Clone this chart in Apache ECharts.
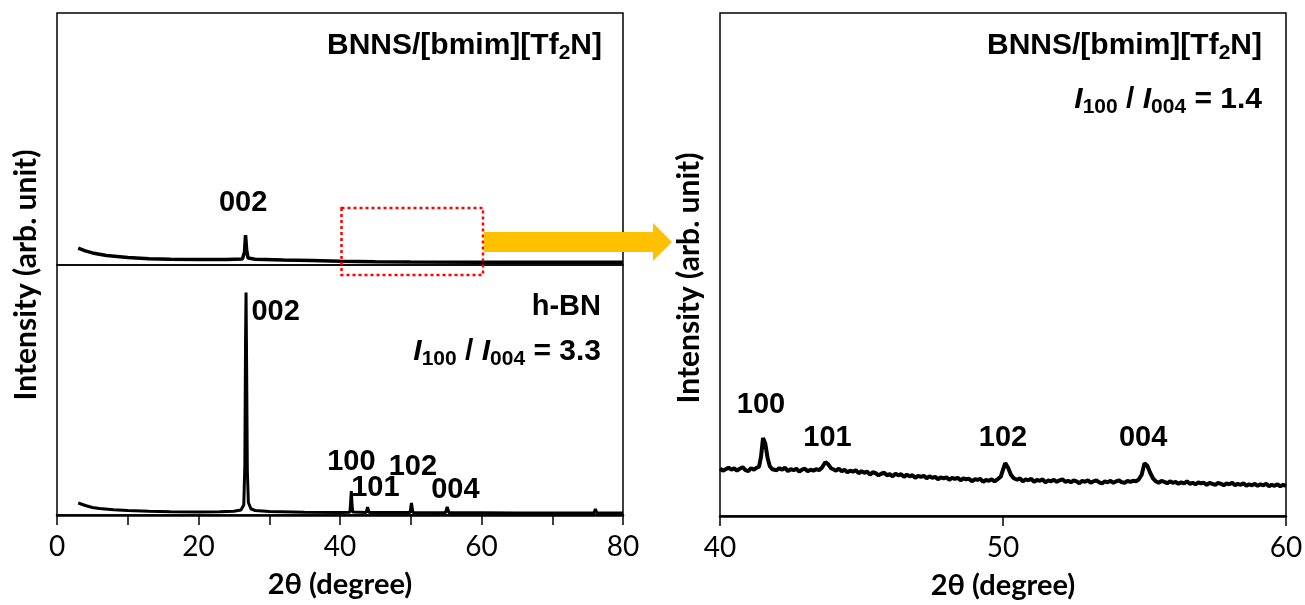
<!DOCTYPE html>
<html>
<head>
<meta charset="utf-8">
<script src="https://cdn.jsdelivr.net/npm/echarts@6/dist/echarts.min.js"></script>
<style>
  html, body { margin: 0; padding: 0; background: #fff; }
  #main { width: 1305px; height: 605px; }
</style>
</head>
<body>
<div id="main"></div>
<script>
// h-BN powder, full scan (lower left panel) [2theta, intensity]
var hbnTrace = [
  [3, 4.8], [4, 3.8], [5, 3.0], [6, 2.6], [8, 2.1], [10, 1.8], [13, 1.5], [16, 1.3],
  [20, 1.2], [23, 1.3], [25, 1.5], [26.0, 2.0], [26.4, 4], [26.55, 20], [26.65, 70],
  [26.72, 89], [26.8, 60], [26.9, 18], [27.05, 5], [27.4, 2.5], [28, 1.8], [30, 1.4],
  [35, 1.1], [40, 1.0], [41.4, 1.1], [41.5, 5], [41.6, 9.6], [41.7, 4], [41.8, 1.2],
  [43.7, 1.0], [43.9, 3.2], [44.1, 1.0], [49.9, 1.0], [50.1, 4.8], [50.3, 1.0],
  [54.9, 0.9], [55.15, 3.2], [55.4, 0.9], [60, 0.9], [65, 0.8], [71.3, 0.8], [71.5, 1.6],
  [71.7, 0.8], [75.9, 0.8], [76.1, 2.4], [76.3, 0.8], [80, 0.8]
];

// BNNS/[bmim][Tf2N], full scan (upper left panel)
var bnnsTrace = [
  [3, 6.7], [4, 5.6], [5, 4.8], [7, 3.8], [10, 3.0], [13, 2.5], [16, 2.3], [20, 2.2],
  [24, 2.2], [26.2, 2.4], [26.5, 5], [26.65, 11.9], [26.8, 6], [27.0, 2.8], [28, 2.3],
  [32, 2.0], [36, 1.8], [40, 1.5], [45, 1.3], [50, 1.2], [60, 1.1], [70, 1.1], [80, 1.1]
];

// BNNS/[bmim][Tf2N], 40-60 deg detail (right panel)
var bnnsZoomTrace = [
  [40.0, 9.4], [40.1, 9.0], [40.2, 9.3], [40.3, 9.6], [40.4, 9.2], [40.5, 9.5], [40.6, 9.0],
  [40.7, 9.4], [40.8, 9.7], [40.9, 9.1], [41.0, 8.9], [41.1, 9.5], [41.2, 9.2], [41.3, 9.6],
  [41.38, 9.8], [41.45, 11.8], [41.52, 15.5], [41.6, 14.4], [41.68, 11.6], [41.76, 9.9],
  [41.85, 9.3], [42.0, 9.1], [42.1, 9.5], [42.2, 9.2], [42.3, 9.6], [42.4, 8.9], [42.5, 9.3],
  [42.6, 9.1], [42.7, 9.4], [42.8, 8.8], [42.9, 9.2], [43.0, 9.4], [43.1, 8.9], [43.2, 9.2],
  [43.3, 9.0], [43.4, 9.3], [43.5, 9.1], [43.6, 9.6], [43.72, 10.7], [43.82, 10.3],
  [43.92, 9.5], [44.0, 9.3], [44.1, 9.0], [44.2, 9.4], [44.3, 8.9], [44.4, 9.2], [44.5, 8.7],
  [44.6, 9.0], [44.7, 8.8], [44.8, 9.1], [44.9, 8.5], [45.0, 8.9], [45.1, 8.6], [45.2, 8.8],
  [45.3, 8.2], [45.4, 8.7], [45.5, 8.5], [45.6, 8.1], [45.7, 8.4], [45.8, 8.6], [45.9, 8.1],
  [46.0, 8.3], [46.1, 7.9], [46.2, 8.4], [46.3, 8.1], [46.4, 8.3], [46.5, 7.8], [46.6, 8.2],
  [46.7, 7.9], [46.8, 8.1], [46.9, 7.6], [47.0, 8.0], [47.1, 7.8], [47.2, 8.0], [47.3, 7.5],
  [47.4, 7.9], [47.5, 7.6], [47.6, 7.8], [47.7, 7.3], [47.8, 7.7], [47.9, 7.5], [48.0, 7.7],
  [48.1, 7.2], [48.2, 7.6], [48.3, 7.4], [48.4, 7.6], [48.5, 7.1], [48.6, 7.5], [48.7, 7.3],
  [48.8, 7.4], [48.9, 6.9], [49.0, 7.3], [49.1, 7.2], [49.2, 7.4], [49.3, 6.8], [49.4, 7.2],
  [49.5, 7.0], [49.6, 7.3], [49.7, 6.9], [49.8, 7.3], [49.92, 7.8], [50.0, 9.2], [50.08, 10.5],
  [50.18, 9.6], [50.28, 8.2], [50.38, 7.5], [50.5, 7.2], [50.6, 7.5], [50.7, 6.9], [50.8, 7.3],
  [50.9, 7.1], [51.0, 7.4], [51.1, 6.8], [51.2, 7.2], [51.3, 7.0], [51.4, 7.3], [51.5, 6.7],
  [51.6, 7.1], [51.7, 6.9], [51.8, 7.2], [51.9, 6.8], [52.0, 7.1], [52.1, 7.3], [52.2, 6.8],
  [52.3, 7.0], [52.4, 6.7], [52.5, 7.1], [52.6, 6.9], [52.7, 6.5], [52.8, 7.0], [52.9, 6.8],
  [53.0, 7.1], [53.1, 6.6], [53.2, 6.9], [53.3, 7.1], [53.4, 6.7], [53.5, 6.5], [53.6, 6.9],
  [53.7, 6.7], [53.8, 7.0], [53.9, 6.6], [54.0, 6.9], [54.1, 7.1], [54.2, 6.7], [54.3, 6.6],
  [54.4, 7.0], [54.5, 6.8], [54.6, 7.0], [54.7, 6.9], [54.8, 7.3], [54.9, 8.2], [55.0, 10.5],
  [55.1, 10.0], [55.2, 8.6], [55.3, 7.5], [55.4, 6.9], [55.5, 6.6], [55.6, 7.0], [55.7, 6.8],
  [55.8, 6.5], [55.9, 6.9], [56.0, 6.6], [56.1, 6.8], [56.2, 6.4], [56.3, 6.7], [56.4, 6.5],
  [56.5, 6.9], [56.6, 6.4], [56.7, 6.6], [56.8, 6.3], [56.9, 6.7], [57.0, 6.5], [57.1, 6.6],
  [57.2, 6.2], [57.3, 6.6], [57.4, 6.4], [57.5, 6.2], [57.6, 6.6], [57.7, 6.4], [57.8, 6.1],
  [57.9, 6.5], [58.0, 6.3], [58.1, 6.6], [58.2, 6.1], [58.3, 6.4], [58.4, 6.2], [58.5, 6.5],
  [58.6, 6.0], [58.7, 6.3], [58.8, 6.1], [58.9, 6.4], [59.0, 6.0], [59.1, 6.3], [59.2, 6.1],
  [59.3, 6.4], [59.4, 5.9], [59.5, 6.2], [59.6, 6.0], [59.7, 6.3], [59.8, 5.9], [59.9, 6.2],
  [60.0, 6.0]
];

// peak labels: [text, 2theta, intensity] (label centre)
var hbnPeakLabels = [['002', 30.9, 81.2], ['100', 41.6, 21.2], ['101', 45.0, 10.8], ['102', 50.3, 19.2], ['004', 56.3, 10.0]];
var bnnsPeakLabels = [['002', 26.3, 24.5]];
var zoomPeakLabels = [['100', 41.45, 22.0], ['101', 43.8, 15.5], ['102', 50.0, 15.5], ['004', 54.95, 15.5]];

var ANNO_FONT = '"Liberation Sans", Arial, sans-serif';
var AXIS_FONT = 'Lato, sans-serif';

var chart = echarts.init(document.getElementById('main'));

function traceSeries(xi, yi, data, w) {
    return {
        type: 'line', xAxisIndex: xi, yAxisIndex: yi, data: data, showSymbol: false,
        lineStyle: {color: '#000', width: w}, z: 3
    };
}

// rich text for annotations
var rich = {
    s: {fontFamily: ANNO_FONT, fontWeight: 'bold', fontSize: 21, color: '#000', verticalAlign: 'bottom', lineHeight: 20},
    i: {fontFamily: ANNO_FONT, fontWeight: 'bold', fontStyle: 'italic', fontSize: 30, color: '#000', lineHeight: 36},
    n: {fontFamily: ANNO_FONT, fontWeight: 'bold', fontSize: 30, color: '#000', lineHeight: 36}
};
function note(text, right, top, size) {
    return {
        text: text, right: right, top: top, padding: 0,
        textStyle: {fontFamily: ANNO_FONT, fontWeight: 'bold', fontSize: size, color: '#000', lineHeight: 36, rich: rich}
    };
}

var frame = {show: true, borderColor: '#000', borderWidth: 1.5, backgroundColor: 'transparent', outerBoundsMode: 'none'};
var bottomXAxis = {
    type: 'value', splitLine: {show: false},
    axisLine: {show: true, lineStyle: {color: '#000', width: 2.5}},
    axisTick: {show: true, length: 10, lineStyle: {color: '#000', width: 1.5}},
    axisLabel: {fontFamily: AXIS_FONT, fontSize: 28, color: '#000', margin: 18},
    name: '2θ (degree)', nameLocation: 'middle', nameGap: 55,
    nameTextStyle: {fontFamily: AXIS_FONT, fontWeight: 'bold', fontSize: 29, color: '#000'}
};
var hiddenY = {type: 'value', min: 0, max: 100, show: false, splitLine: {show: false}};

var option = {
    animation: false,
    backgroundColor: '#fff',
    title: [
        note('BNNS/[bmim][Tf{s|2}N]', 703, 28, 30),
        note('h-BN', 704, 289, 29),
        note('{i|I}{s|100}{n| / }{i|I}{s|004}{n| = 3.3}', 704, 334, 30),
        note('BNNS/[bmim][Tf{s|2}N]', 43, 28, 30),
        note('{i|I}{s|100}{n| / }{i|I}{s|004}{n| = 1.4}', 43, 82, 30)
    ],
    grid: [
        Object.assign({left: 57, top: 13, width: 566, height: 252}, frame),
        Object.assign({left: 57, top: 265, width: 566, height: 250}, frame),
        Object.assign({left: 720, top: 13, width: 566, height: 503}, frame)
    ],
    xAxis: [
        {type: 'value', gridIndex: 0, min: 0, max: 80, show: false, splitLine: {show: false}},
        Object.assign({}, bottomXAxis, {
            gridIndex: 1, min: 0, max: 80, interval: 10,
            axisLabel: Object.assign({}, bottomXAxis.axisLabel, {
                formatter: function (v) { return v % 20 === 0 ? String(v) : ''; }
            })
        }),
        Object.assign({}, bottomXAxis, {gridIndex: 2, min: 40, max: 60, interval: 10})
    ],
    yAxis: [
        Object.assign({gridIndex: 0}, hiddenY),
        Object.assign({gridIndex: 1}, hiddenY),
        Object.assign({gridIndex: 2}, hiddenY)
    ],
    series: [
        traceSeries(0, 0, bnnsTrace, 3.5),
        traceSeries(1, 1, hbnTrace, 3),
        traceSeries(2, 2, bnnsZoomTrace, 4)
    ]
};

chart.setOption(option);

// peak labels placed through the axes of their own panel
function peakTexts(gridIndex, labels) {
    return labels.map(function (l) {
        var p = chart.convertToPixel({gridIndex: gridIndex}, [l[1], l[2]]);
        return {
            type: 'text', x: p[0], y: p[1], z: 20, silent: true,
            style: {text: l[0], fontFamily: ANNO_FONT, fontWeight: 'bold', fontSize: 29, fill: '#000',
                textAlign: 'center', textVerticalAlign: 'middle'}
        };
    });
}

// annotations: zoom box on 40-60 deg, arrow, rotated y titles
var boxL = chart.convertToPixel({xAxisIndex: 1}, 40);
var boxR = chart.convertToPixel({xAxisIndex: 1}, 60);
var yTitle = {text: 'Intensity (arb. unit)', fontFamily: AXIS_FONT, fontWeight: 'bold', fontSize: 30,
    fill: '#000', textAlign: 'center', textVerticalAlign: 'middle'};

chart.setOption({
    graphic: [
        {type: 'rect', z: 20, shape: {x: boxL + 1.5, y: 208, width: boxR - boxL, height: 67},
            style: {fill: 'none', stroke: '#ff0000', lineWidth: 2.5, lineDash: [3, 3]}},
        {type: 'polygon', z: 20,
            shape: {points: [[484, 232], [653, 232], [653, 223], [672, 242], [653, 261], [653, 252], [484, 252]]},
            style: {fill: '#ffc000'}},
        {type: 'text', x: 26, y: 275, rotation: Math.PI / 2, style: yTitle},
        {type: 'text', x: 689, y: 278, rotation: Math.PI / 2, style: yTitle}
    ].concat(peakTexts(0, bnnsPeakLabels), peakTexts(1, hbnPeakLabels), peakTexts(2, zoomPeakLabels))
});
</script>
</body>
</html>
